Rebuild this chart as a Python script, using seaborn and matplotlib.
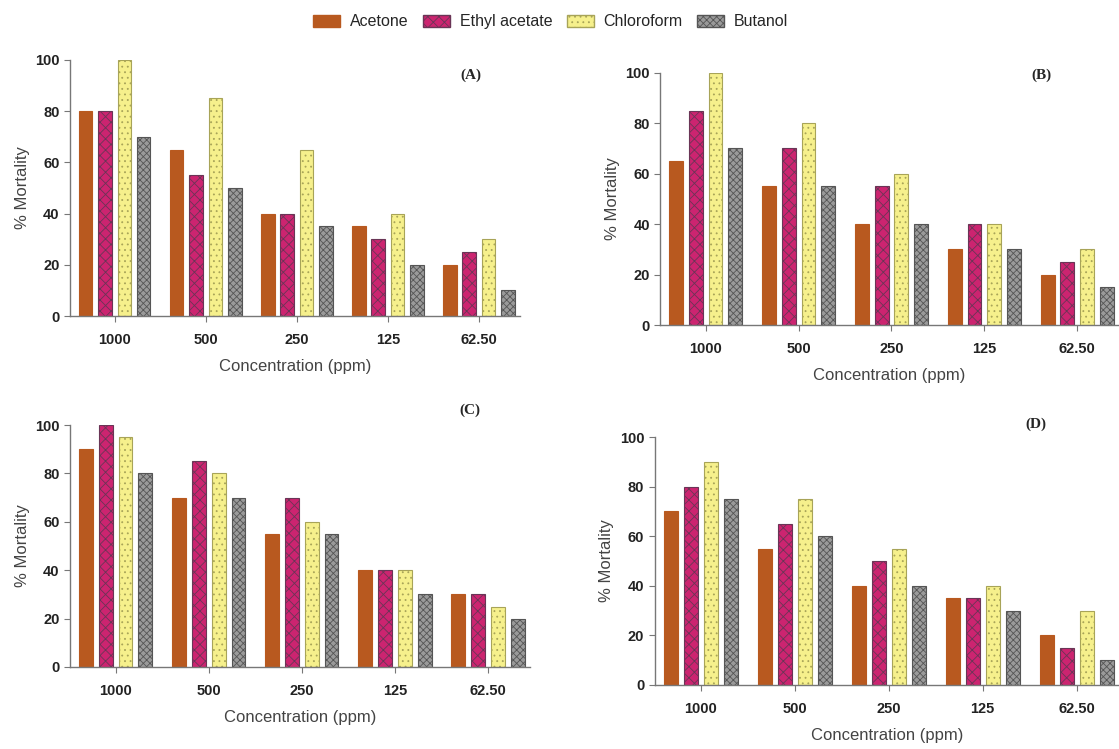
import pandas as pd
import matplotlib.pyplot as plt
import seaborn as sns
from matplotlib.patches import Patch

# data (% mortality)
concentrations = ['1000', '500', '250', '125', '62.50']
solvents = ['Acetone', 'Ethyl acetate', 'Chloroform', 'Butanol']

panel_a = {
    'Acetone': [80, 65, 40, 35, 20],
    'Ethyl acetate': [80, 55, 40, 30, 25],
    'Chloroform': [100, 85, 65, 40, 30],
    'Butanol': [70, 50, 35, 20, 10],
}
panel_b = {
    'Acetone': [65, 55, 40, 30, 20],
    'Ethyl acetate': [85, 70, 55, 40, 25],
    'Chloroform': [100, 80, 60, 40, 30],
    'Butanol': [70, 55, 40, 30, 15],
}
panel_c = {
    'Acetone': [90, 70, 55, 40, 30],
    'Ethyl acetate': [100, 85, 70, 40, 30],
    'Chloroform': [95, 80, 60, 40, 25],
    'Butanol': [80, 70, 55, 30, 20],
}
panel_d = {
    'Acetone': [70, 55, 40, 35, 20],
    'Ethyl acetate': [80, 65, 50, 35, 15],
    'Chloroform': [90, 75, 55, 40, 30],
    'Butanol': [75, 60, 40, 30, 10],
}

colors = ['#b8591f', '#cc2470', '#f6f08c', '#9a9a9a']
edges = ['#b8591f', '#6a3556', '#a8a458', '#555555']
hatches = ['', 'xxx', '...', 'xxxxx']

sns.set_style('white')
plt.rcParams['font.family'] = ['Liberation Sans', 'DejaVu Sans']
plt.rcParams['hatch.linewidth'] = 0.6

fig = plt.figure(figsize=(11.19, 7.49), dpi=100)

# label, data, axes rect, panel-label position (axes fraction)
panels = [
    ('(A)', panel_a, [0.0626, 0.578, 0.402, 0.342], (0.89, 0.94)),
    ('(B)', panel_b, [0.590, 0.566, 0.410, 0.337], (0.83, 0.99)),
    ('(C)', panel_c, [0.0626, 0.1095, 0.411, 0.323], (0.87, 1.06)),
    ('(D)', panel_d, [0.585, 0.0855, 0.415, 0.331], (0.82, 1.05)),
]

for label, values, pos, lpos in panels:
    ax = fig.add_axes(pos)
    rows = []
    for s in solvents:
        for c, v in zip(concentrations, values[s]):
            rows.append({'Concentration': c, 'Solvent': s, 'Mortality': v})
    df = pd.DataFrame(rows)
    sns.barplot(data=df, x='Concentration', y='Mortality', hue='Solvent',
                order=concentrations, hue_order=solvents, palette=colors,
                saturation=1, width=0.85, gap=0.3, legend=False, ax=ax)
    for i, cont in enumerate(ax.containers):
        for bar in cont:
            bar.set_hatch(hatches[i])
            bar.set_edgecolor(edges[i])
            bar.set_linewidth(0.8)
    ax.set_ylim(0, 100)
    ax.set_xlim(-0.49, 4.45)
    ax.set_yticks([0, 20, 40, 60, 80, 100])
    ax.set_ylabel('% Mortality', fontsize=12, color='#444444')
    ax.set_xlabel('Concentration (ppm)', fontsize=12, color='#444444', labelpad=9)
    sns.despine(ax=ax)
    for sp in ['left', 'bottom']:
        ax.spines[sp].set_color('#777777')
        ax.spines[sp].set_linewidth(1.0)
    ax.tick_params(axis='both', which='both', direction='out', length=4,
                   color='#777777', labelsize=10.5, labelcolor='#222222',
                   left=True, bottom=True)
    for t in ax.get_xticklabels() + ax.get_yticklabels():
        t.set_fontweight('bold')
    ax.tick_params(axis='x', pad=8)
    ax.text(lpos[0], lpos[1], label, transform=ax.transAxes, ha='center',
            va='center', fontsize=11, fontweight='bold', family='Liberation Serif')

handles = [Patch(facecolor=colors[i], edgecolor=edges[i], hatch=hatches[i],
                 label=solvents[i]) for i in range(4)]
fig.legend(handles=handles, loc='upper center', bbox_to_anchor=(0.492, 1.0),
           ncol=4, frameon=False, fontsize=11.5, handlelength=1.7,
           handleheight=0.8, columnspacing=0.9, handletextpad=0.6)

fig.savefig('out.png', dpi=100)
